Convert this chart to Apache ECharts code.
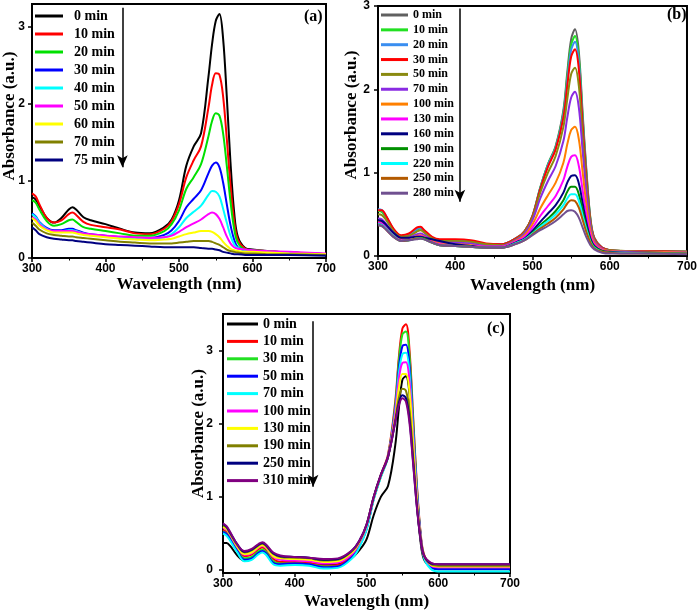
<!DOCTYPE html>
<html><head><meta charset="utf-8">
<script src="https://cdn.jsdelivr.net/npm/echarts@6/dist/echarts.min.js"></script>
<style>html,body{margin:0;padding:0;background:#fff}#c{width:700px;height:611px}</style>
</head><body><div id="c"></div>
<script>
// Wavelength grid (nm)
const WL = [300,305,310,320,330,340,350,355,360,370,380,400,420,440,460,480,490,500,510,520,530,540,545,550,555,560,565,570,575,580,590,600,620,650,700];

// ---- Panel (a) ----
const namesA = ['0 min','10 min','20 min','30 min','40 min','50 min','60 min','70 min','75 min'];
const colorsA = ['#000000','#ff0000','#00e000','#0000ff','#00ffff','#ff00ff','#ffff00','#808000','#000080'];
const a_0  = [0.79,0.76,0.68,0.52,0.46,0.52,0.63,0.66,0.63,0.53,0.49,0.44,0.38,0.33,0.32,0.40,0.50,0.75,1.20,1.45,1.62,2.35,2.78,3.08,3.17,2.85,2.10,1.25,0.60,0.28,0.13,0.11,0.09,0.07,0.05];
const a_10 = [0.84,0.80,0.70,0.52,0.46,0.49,0.57,0.59,0.56,0.47,0.43,0.40,0.37,0.32,0.31,0.38,0.48,0.70,1.05,1.27,1.45,1.95,2.25,2.40,2.38,2.10,1.55,0.95,0.48,0.24,0.12,0.10,0.09,0.07,0.05];
const a_20 = [0.75,0.72,0.63,0.48,0.42,0.44,0.49,0.50,0.47,0.40,0.38,0.35,0.32,0.29,0.29,0.35,0.44,0.62,0.90,1.05,1.22,1.58,1.78,1.88,1.85,1.62,1.20,0.74,0.38,0.20,0.11,0.10,0.09,0.07,0.05];
const a_30 = [0.58,0.54,0.47,0.39,0.36,0.36,0.38,0.38,0.36,0.33,0.31,0.29,0.27,0.26,0.26,0.30,0.36,0.48,0.66,0.77,0.88,1.10,1.20,1.24,1.18,0.98,0.70,0.43,0.24,0.14,0.10,0.09,0.08,0.07,0.05];
const a_40 = [0.57,0.53,0.46,0.38,0.35,0.35,0.36,0.36,0.35,0.32,0.30,0.28,0.26,0.25,0.25,0.27,0.31,0.40,0.52,0.60,0.68,0.82,0.87,0.86,0.80,0.64,0.46,0.29,0.18,0.13,0.10,0.09,0.08,0.07,0.05];
const a_50 = [0.53,0.50,0.44,0.37,0.35,0.35,0.35,0.35,0.34,0.32,0.31,0.29,0.28,0.27,0.26,0.27,0.29,0.34,0.40,0.45,0.50,0.57,0.59,0.57,0.51,0.40,0.28,0.19,0.14,0.12,0.11,0.10,0.09,0.08,0.06];
const a_60 = [0.52,0.48,0.42,0.36,0.33,0.33,0.33,0.33,0.32,0.30,0.29,0.27,0.25,0.24,0.23,0.24,0.25,0.28,0.31,0.33,0.35,0.35,0.34,0.31,0.27,0.21,0.16,0.12,0.10,0.09,0.08,0.08,0.07,0.06,0.05];
const a_70 = [0.46,0.42,0.37,0.32,0.30,0.29,0.28,0.28,0.27,0.26,0.25,0.23,0.21,0.20,0.19,0.19,0.19,0.20,0.21,0.22,0.22,0.22,0.21,0.19,0.17,0.14,0.11,0.09,0.08,0.07,0.06,0.06,0.05,0.05,0.04];
const a_75 = [0.40,0.36,0.31,0.27,0.25,0.24,0.23,0.23,0.22,0.21,0.20,0.18,0.17,0.16,0.15,0.14,0.14,0.14,0.14,0.14,0.13,0.12,0.12,0.11,0.10,0.08,0.07,0.06,0.05,0.05,0.04,0.04,0.04,0.04,0.03];

// ---- Panel (b) ----
const namesB = ['0 min','10 min','20 min','30 min','50 min','70 min','100 min','130 min','160 min','190 min','220 min','250 min','280 min'];
const colorsB = ['#606060','#22e022','#3a8ef0','#ff0000','#8a8a10','#8a2be2','#ff8000','#ff00ff','#000080','#009000','#00ffff','#b35a00','#705090'];
const b_0   = [0.55,0.54,0.48,0.32,0.24,0.26,0.32,0.34,0.30,0.22,0.19,0.19,0.18,0.14,0.14,0.22,0.30,0.48,0.82,1.10,1.32,1.75,2.20,2.60,2.72,2.45,1.70,1.00,0.45,0.22,0.10,0.07,0.06,0.06,0.05];
const b_10  = [0.54,0.53,0.47,0.31,0.23,0.25,0.31,0.33,0.29,0.21,0.18,0.18,0.17,0.14,0.14,0.22,0.30,0.48,0.82,1.10,1.31,1.72,2.15,2.53,2.64,2.38,1.65,0.97,0.44,0.21,0.10,0.07,0.06,0.06,0.05];
const b_20  = [0.56,0.55,0.49,0.32,0.24,0.26,0.32,0.34,0.30,0.22,0.19,0.19,0.18,0.14,0.14,0.22,0.30,0.48,0.81,1.09,1.30,1.70,2.10,2.47,2.57,2.32,1.61,0.95,0.43,0.21,0.10,0.07,0.06,0.06,0.05];
const b_30  = [0.55,0.55,0.49,0.33,0.25,0.27,0.34,0.35,0.31,0.23,0.20,0.20,0.19,0.15,0.14,0.22,0.30,0.48,0.80,1.07,1.28,1.66,2.04,2.39,2.48,2.24,1.56,0.92,0.42,0.21,0.10,0.07,0.06,0.06,0.05];
const b_50  = [0.50,0.49,0.44,0.30,0.23,0.24,0.29,0.31,0.28,0.21,0.18,0.18,0.17,0.14,0.13,0.21,0.29,0.46,0.76,1.00,1.20,1.55,1.88,2.18,2.26,2.04,1.43,0.85,0.40,0.20,0.09,0.07,0.06,0.05,0.05];
const b_70  = [0.45,0.44,0.39,0.28,0.21,0.22,0.26,0.27,0.25,0.19,0.16,0.16,0.15,0.12,0.12,0.20,0.27,0.43,0.69,0.90,1.08,1.38,1.66,1.90,1.97,1.78,1.25,0.75,0.36,0.18,0.09,0.06,0.05,0.05,0.04];
const b_100 = [0.42,0.41,0.37,0.26,0.20,0.21,0.24,0.25,0.23,0.18,0.15,0.14,0.13,0.11,0.11,0.19,0.25,0.38,0.57,0.73,0.88,1.12,1.34,1.51,1.55,1.40,1.00,0.60,0.30,0.16,0.08,0.06,0.05,0.05,0.04];
const b_130 = [0.40,0.39,0.35,0.25,0.19,0.20,0.23,0.24,0.22,0.17,0.14,0.13,0.12,0.11,0.11,0.18,0.23,0.34,0.48,0.60,0.72,0.91,1.07,1.19,1.21,1.08,0.78,0.48,0.25,0.14,0.07,0.05,0.05,0.04,0.04];
const b_160 = [0.43,0.42,0.38,0.28,0.22,0.22,0.23,0.23,0.22,0.20,0.18,0.14,0.12,0.10,0.10,0.17,0.21,0.30,0.41,0.51,0.61,0.76,0.88,0.96,0.97,0.87,0.63,0.39,0.21,0.12,0.06,0.05,0.04,0.04,0.03];
const b_190 = [0.38,0.37,0.33,0.24,0.18,0.19,0.21,0.22,0.21,0.16,0.13,0.12,0.11,0.10,0.10,0.16,0.20,0.28,0.37,0.45,0.54,0.67,0.77,0.83,0.83,0.74,0.54,0.34,0.19,0.11,0.06,0.04,0.04,0.04,0.03];
const b_220 = [0.38,0.37,0.33,0.24,0.18,0.19,0.21,0.21,0.20,0.16,0.13,0.12,0.11,0.10,0.10,0.16,0.20,0.27,0.35,0.42,0.50,0.61,0.69,0.74,0.74,0.66,0.48,0.31,0.17,0.10,0.05,0.04,0.04,0.03,0.03];
const b_250 = [0.37,0.36,0.32,0.23,0.18,0.19,0.21,0.21,0.20,0.16,0.13,0.12,0.11,0.10,0.10,0.15,0.19,0.26,0.33,0.39,0.46,0.56,0.63,0.67,0.66,0.58,0.43,0.28,0.16,0.09,0.05,0.04,0.03,0.03,0.03];
const b_280 = [0.37,0.36,0.32,0.23,0.18,0.19,0.20,0.21,0.20,0.16,0.13,0.12,0.11,0.10,0.10,0.15,0.19,0.25,0.31,0.36,0.42,0.50,0.54,0.55,0.53,0.46,0.34,0.22,0.13,0.08,0.04,0.03,0.03,0.03,0.02];

// ---- Panel (c) ----
const namesC = ['0 min','10 min','30 min','50 min','70 min','100 min','130 min','190 min','250 min','310 min'];
const colorsC = ['#000000','#ff0000','#22e022','#0000ff','#00ffff','#ff00ff','#ffff00','#808000','#000080','#800080'];
const c_0   = [0.37,0.37,0.33,0.20,0.13,0.15,0.23,0.25,0.22,0.11,0.09,0.10,0.09,0.07,0.08,0.17,0.27,0.42,0.75,1.00,1.15,1.70,2.20,2.60,2.65,2.40,1.70,0.95,0.42,0.15,0.04,0.02,0.02,0.02,0.02];
const c_10  = [0.55,0.52,0.45,0.29,0.19,0.21,0.29,0.31,0.28,0.15,0.11,0.11,0.10,0.06,0.07,0.20,0.35,0.58,0.98,1.30,1.58,2.30,2.90,3.30,3.36,3.00,2.10,1.20,0.55,0.22,0.06,0.03,0.03,0.03,0.03];
const c_30  = [0.53,0.50,0.43,0.27,0.16,0.18,0.26,0.28,0.25,0.12,0.09,0.09,0.08,0.05,0.05,0.18,0.33,0.56,0.97,1.28,1.56,2.25,2.85,3.22,3.26,2.92,2.05,1.17,0.53,0.20,0.04,0.01,0.01,0.01,0.01];
const c_50  = [0.52,0.49,0.42,0.26,0.14,0.16,0.24,0.26,0.23,0.10,0.08,0.09,0.08,0.04,0.05,0.18,0.33,0.56,0.97,1.28,1.55,2.20,2.75,3.06,3.08,2.78,1.95,1.12,0.52,0.19,0.04,0.01,0.01,0.01,0.01];
const c_70  = [0.50,0.47,0.40,0.24,0.12,0.14,0.22,0.24,0.21,0.08,0.06,0.07,0.06,0.02,0.03,0.16,0.31,0.55,0.96,1.27,1.54,2.17,2.68,2.95,2.97,2.68,1.88,1.08,0.49,0.17,0.01,-0.02,-0.02,-0.02,-0.02];
const c_100 = [0.58,0.55,0.48,0.31,0.21,0.23,0.31,0.33,0.30,0.18,0.14,0.13,0.12,0.09,0.10,0.22,0.37,0.60,0.99,1.30,1.56,2.15,2.60,2.83,2.84,2.57,1.82,1.05,0.50,0.20,0.06,0.04,0.04,0.04,0.04];
const c_130 = [0.59,0.56,0.49,0.32,0.22,0.24,0.32,0.34,0.31,0.19,0.16,0.15,0.14,0.11,0.12,0.24,0.38,0.61,0.99,1.29,1.55,2.08,2.48,2.68,2.68,2.43,1.73,1.00,0.48,0.20,0.07,0.05,0.05,0.05,0.05];
const c_190 = [0.61,0.58,0.50,0.34,0.24,0.27,0.34,0.36,0.33,0.22,0.18,0.17,0.16,0.13,0.14,0.26,0.39,0.62,1.00,1.30,1.55,2.05,2.35,2.48,2.45,2.18,1.56,0.92,0.46,0.20,0.08,0.06,0.06,0.06,0.06];
const c_250 = [0.63,0.59,0.51,0.35,0.25,0.28,0.35,0.37,0.34,0.23,0.19,0.18,0.17,0.14,0.15,0.27,0.40,0.62,1.00,1.30,1.55,2.02,2.28,2.39,2.35,2.05,1.48,0.89,0.45,0.20,0.09,0.08,0.08,0.08,0.08];
const c_310 = [0.64,0.60,0.52,0.35,0.26,0.29,0.36,0.38,0.35,0.24,0.20,0.18,0.17,0.15,0.16,0.27,0.40,0.62,1.00,1.30,1.55,2.02,2.25,2.35,2.30,2.00,1.45,0.88,0.45,0.20,0.10,0.08,0.08,0.08,0.08];

// Arrow annotations (data coordinates: [wavelength, absorbance])
const arrowA = [[423, 3.25], [423, 1.18]];
const arrowB = [[406, 2.97], [406, 0.65]];
const arrowC = [[425.6, 3.40], [425.6, 1.14]];

const valsA = [a_0,a_10,a_20,a_30,a_40,a_50,a_60,a_70,a_75];
const valsB = [b_0,b_10,b_20,b_30,b_50,b_70,b_100,b_130,b_160,b_190,b_220,b_250,b_280];
const valsC = [c_0,c_10,c_30,c_50,c_70,c_100,c_130,c_190,c_250,c_310];

const SERIF = '"Liberation Serif","Times New Roman",serif';
const SANS = '"Liberation Sans",Arial,sans-serif';

function makeSeries(tag, idx, names, colors, vals, arrow) {
  return names.map((n, i) => {
    const s = {
      type: 'line', name: tag + '|' + n,
      xAxisIndex: idx, yAxisIndex: idx,
      symbol: 'none', smooth: 0.35, silent: true,
      lineStyle: { width: 2, color: colors[i] },
      itemStyle: { color: colors[i] },
      data: WL.map((w, k) => [w, vals[i][k]])
    };
    if (i === 0) {
      s.markLine = {
        silent: true, symbol: ['none', 'arrow'], symbolSize: [8, 12],
        label: { show: false },
        lineStyle: { color: '#000', width: 1.5, type: 'solid' },
        data: [[{ coord: arrow[0] }, { coord: arrow[1] }]]
      };
    }
    return s;
  });
}

function xAx(idx, gap) {
  return {
    type: 'value', gridIndex: idx, min: 300, max: 700, interval: 100,
    name: 'Wavelength (nm)', nameLocation: 'middle', nameGap: gap, nameMoveOverlap: false,
    nameTextStyle: { fontFamily: SERIF, fontWeight: 'bold', fontSize: 17, color: '#000' },
    axisLine: { show: true, onZero: false, lineStyle: { color: '#000', width: 2 } },
    axisTick: { show: true, length: 4, lineStyle: { color: '#000', width: 1.5 } },
    minorTick: { show: true, splitNumber: 2, length: 2.5, lineStyle: { color: '#000', width: 1 } },
    axisLabel: { fontFamily: SANS, fontWeight: 'bold', fontSize: 12, color: '#000', margin: 5 },
    splitLine: { show: false }, minorSplitLine: { show: false }
  };
}
function yAx(idx, min, max, gap, shift, margin) {
  return {
    type: 'value', gridIndex: idx, min: min, max: max,
    name: 'Absorbance (a.u.)', nameLocation: 'middle', nameGap: gap, nameMoveOverlap: false,
    nameTextStyle: { fontFamily: SERIF, fontWeight: 'bold', fontSize: 17, color: '#000', padding: [0, 0, 0, shift] },
    axisLine: { show: true, onZero: false, lineStyle: { color: '#000', width: 2 } },
    axisTick: { show: true, length: 4, customValues: [0, 1, 2, 3], lineStyle: { color: '#000', width: 1.5 } },
    axisLabel: { fontFamily: SANS, fontWeight: 'bold', fontSize: 12, color: '#000', margin: margin, customValues: [0, 1, 2, 3] },
    splitLine: { show: false }
  };
}
function legend(tag, names, left, top, fs, gap, iw, pad) {
  return {
    orient: 'vertical', left: left, top: top, itemWidth: iw, itemHeight: 3,
    icon: 'rect', itemGap: gap, padding: 0, selectedMode: false,
    data: names.map(n => tag + '|' + n),
    formatter: n => n.split('|')[1],
    textStyle: { fontFamily: SERIF, fontWeight: 'bold', fontSize: fs, lineHeight: fs, color: '#000', padding: [0, 0, 0, pad] }
  };
}

const chart = echarts.init(document.getElementById('c'), null, { renderer: 'canvas' });
chart.setOption({
  animation: false,
  backgroundColor: '#fff',
  grid: [
    { left: 31, top: 4, width: 295, height: 254, show: true, borderColor: '#000', borderWidth: 2 },
    { left: 378, top: 5, width: 311, height: 251, show: true, borderColor: '#000', borderWidth: 2 },
    { left: 223, top: 314, width: 287, height: 259, show: true, borderColor: '#000', borderWidth: 2 }
  ],
  xAxis: [xAx(0, 18), xAx(1, 21), xAx(2, 20)],
  yAxis: [yAx(0, 0, 3.3, 14, 30, 7), yAx(1, 0, 3, 18, 32, 8), yAx(2, -0.04, 3.5, 16, 20, 10)],
  legend: [
    legend('a', namesA, 35, 9, 14, 4, 28, 6),
    legend('b', namesB, 381, 9, 12, 2.85, 27, 0),
    legend('c', namesC, 227, 317, 14, 3.4, 31, 0)
  ],
  graphic: [
    { type: 'text', left: 304, top: 9, style: { text: '(a)', font: 'bold 16px ' + SERIF, fill: '#000' } },
    { type: 'text', left: 667, top: 7, style: { text: '(b)', font: 'bold 16px ' + SERIF, fill: '#000' } },
    { type: 'text', left: 487, top: 321, style: { text: '(c)', font: 'bold 16px ' + SERIF, fill: '#000' } }
  ],
  series: [].concat(
    makeSeries('a', 0, namesA, colorsA, valsA, arrowA),
    makeSeries('b', 1, namesB, colorsB, valsB, arrowB),
    makeSeries('c', 2, namesC, colorsC, valsC, arrowC)
  )
});
</script></body></html>
